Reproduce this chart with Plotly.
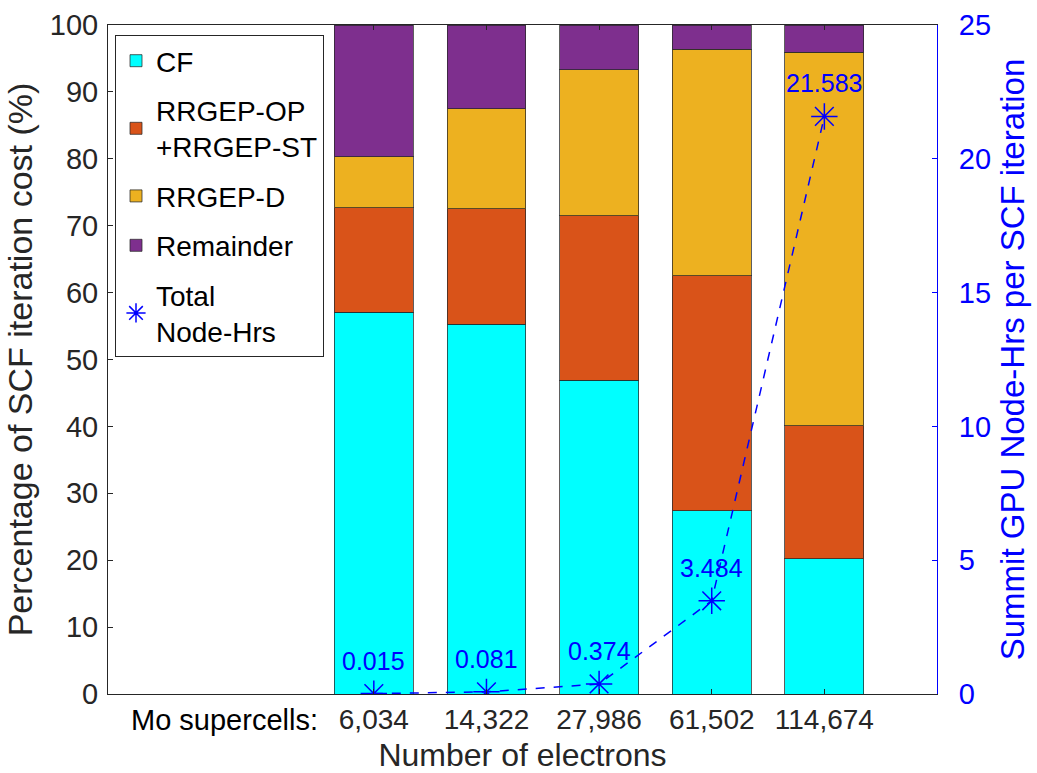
import plotly.graph_objects as go

electrons = ["6,034", "14,322", "27,986", "61,502", "114,674"]
positions = [1, 2, 3, 4, 5]
cf = [57.1, 55.3, 46.9, 27.4, 20.2]
rrgep_opst = [15.6, 17.2, 24.6, 35.1, 19.9]
rrgep_d = [7.6, 15.0, 21.8, 33.9, 55.8]
remainder = [19.7, 12.5, 6.7, 3.6, 4.1]
node_hrs = [0.015, 0.081, 0.374, 3.484, 21.583]
node_labels = ["0.015", "0.081", "0.374", "3.484", "21.583"]

FONT = "Liberation Sans, Arial, Helvetica, sans-serif"
edge = dict(color="rgba(40,40,40,0.75)", width=1)

fig = go.Figure()
series = [
    ("CF", cf, "#00FFFF"),
    ("RRGEP-OP<br>+RRGEP-ST", rrgep_opst, "#D95319"),
    ("RRGEP-D", rrgep_d, "#EDB120"),
    ("Remainder", remainder, "#7E2F8E"),
]
for i, (name, vals, col) in enumerate(series):
    fig.add_trace(go.Bar(x=positions, y=vals, name=name, width=0.7,
                         legendgroup=f"g{i}",
                         marker=dict(color=col, line=edge)))

fig.add_trace(go.Scatter(x=positions, y=node_hrs, yaxis="y2", mode="lines",
                         line=dict(color="#0000FF", width=1.5, dash="dash"),
                         showlegend=False, hoverinfo="skip", legendgroup="g5"))
fig.add_trace(go.Scatter(x=positions, y=node_hrs, yaxis="y2", mode="markers",
                         name="Total<br>Node-Hrs", legendgroup="g4",
                         marker=dict(symbol="asterisk-open", size=22,
                                     color="#0000FF",
                                     line=dict(color="#0000FF", width=1.5))))

for xv, yv, lab in zip(positions, node_hrs, node_labels):
    fig.add_annotation(x=xv, y=yv, xref="x", yref="y2", text=lab,
                       showarrow=False, yshift=33,
                       font=dict(family=FONT, size=25, color="#0000FF"))

fig.add_annotation(x=(320 - 108) / 829, y=-(720 - 694) / 669, xref="paper",
                   yref="paper", text="Mo supercells:", showarrow=False,
                   xanchor="right", yanchor="middle",
                   font=dict(family=FONT, size=29, color="#000000"))

fig.update_layout(
    width=1037, height=773,
    margin=dict(l=108, r=100, t=25, b=79),
    barmode="stack",
    plot_bgcolor="white", paper_bgcolor="white",
    font=dict(family=FONT, size=28, color="#262626"),
    xaxis=dict(range=[-1.36, 6.0], tickvals=positions, ticktext=electrons,
               ticks="inside", ticklen=5, tickcolor="#262626",
               showline=True, linecolor="#262626", linewidth=1, mirror="ticks",
               showgrid=False, zeroline=False, automargin=False,
               title=dict(text="Number of electrons", font=dict(size=32), standoff=10),
               tickfont=dict(size=28, color="#262626")),
    yaxis=dict(range=[0, 100], tickvals=list(range(0, 101, 10)),
               ticks="inside", ticklen=5, tickcolor="#262626",
               showline=True, linecolor="#262626", linewidth=1,
               showgrid=False, zeroline=False, automargin=False,
               ticklabelstandoff=3,
               title=dict(text="Percentage of SCF iteration cost (%)",
                          font=dict(size=34), standoff=6),
               tickfont=dict(size=29, color="#262626")),
    yaxis2=dict(range=[0, 25], tickvals=list(range(0, 26, 5)), overlaying="y",
                side="right", ticks="inside", ticklen=5, tickcolor="#0000FF",
                showline=True, linecolor="#0000FF", linewidth=1,
                showgrid=False, zeroline=False, automargin=False,
                ticklabelstandoff=15,
                title=dict(text="Summit GPU Node-Hrs per SCF iteration",
                           font=dict(size=33, color="#0000FF"), standoff=10),
                tickfont=dict(size=29, color="#0000FF")),
    legend=dict(x=(115 - 108) / 829, y=(694 - 35) / 669, xanchor="left",
                yanchor="top", bgcolor="white", bordercolor="#262626",
                borderwidth=1, font=dict(size=28, color="#000000"),
                traceorder="grouped", tracegroupgap=10),
)

fig.write_html("out.html")
